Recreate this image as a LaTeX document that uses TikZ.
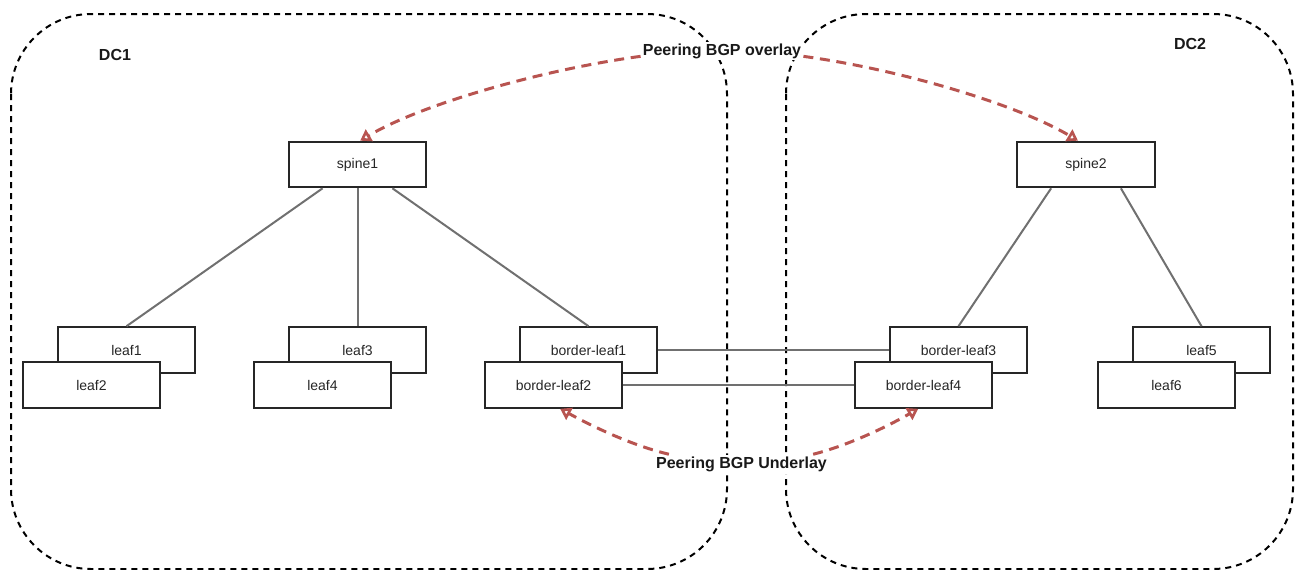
\documentclass[tikz,border=0pt]{standalone}
\usepackage{fontspec}
\setmainfont{Liberation Sans}
\usepackage{tikz}
\usetikzlibrary{arrows.meta}
\usetikzlibrary{calc}
\definecolor{peerred}{HTML}{B85450}
\definecolor{linkgray}{HTML}{707070}
\definecolor{boxgray}{HTML}{262626}

\begin{document}
\begin{tikzpicture}[x=0.75pt,y=-0.75pt]
\useasboundingbox (0,0) rectangle (1296,569);

\begin{scope}[line width=1.5pt, dash pattern=on 4.5pt off 3.75pt, rounded corners=60pt]
	\draw (11,14) rectangle (727,569);
	\draw (786,14) rectangle (1293,569);
\end{scope}

\begin{scope}[every node/.style={font=\fontsize{12}{14}\selectfont\bfseries, text=black!90}]
	\node (dc1) at (115,55) {DC1};
	\node (dc2) at (1190,43.5) {DC2};
	\node[fill=white, inner sep=1.5pt] (overlay) at (722,51) {Peering BGP overlay};
	\node[fill=white, inner sep=1.5pt] (underlay) at (741.5,464) {Peering BGP Underlay};
\end{scope}

\begin{scope}[every node/.style={draw=boxgray, line width=1.7pt, fill=white,
              minimum width=103pt, minimum height=34pt, inner sep=0pt,
              font=\fontsize{10.5}{12}\selectfont, text=black!85}]
	\node (spine1) at (357.5,164.5) {spine1};
	\node (spine2) at (1086,164.5) {spine2};

	\node (leaf1) at (126.5,350) {leaf1};
	\node (leaf2) at (91.5,385) {leaf2};
	\node (leaf3) at (357.5,350) {leaf3};
	\node (leaf4) at (322.5,385) {leaf4};
	\node (border-leaf1) at (588.5,350) {border-leaf1};
	\node (border-leaf2) at (553.5,385) {border-leaf2};

	\node (border-leaf3) at (958.5,350) {border-leaf3};
	\node (border-leaf4) at (923.5,385) {border-leaf4};
	\node (leaf5) at (1201.5,350) {leaf5};
	\node (leaf6) at (1166.5,385) {leaf6};
\end{scope}

\begin{scope}[every edge/.style={draw=linkgray, line width=1.5pt}]
	\path ($(spine1.south)!0.5!(spine1.south west)$) edge (leaf1.north);
	\path (spine1.south) edge (leaf3.north);
	\path ($(spine1.south)!0.5!(spine1.south east)$) edge (border-leaf1.north);
	\path ($(spine2.south)!0.5!(spine2.south west)$) edge (border-leaf3.north);
	\path ($(spine2.south)!0.5!(spine2.south east)$) edge (leaf5.north);

	\path (border-leaf1.east) edge (border-leaf3.west);
	\path (border-leaf2.east) edge (border-leaf4.west);
\end{scope}

\begin{scope}[>={Triangle[open, length=8pt, width=10pt]},
              draw=peerred, line width=2.25pt, dash pattern=on 7.5pt off 5pt]
	\draw[->] ([yshift=-4pt]overlay.west) .. controls (540,70) and (420,105) .. ([xshift=2pt]spine1.north);
	\draw[->] ([yshift=-4pt]overlay.east) .. controls (903,70) and (1018,105) .. ([xshift=-6pt]spine2.north);
	\draw[->] ($(underlay.north west)+(15,0)$) .. controls (630,445) and (590,425) .. ([xshift=5pt]border-leaf2.south);
	\draw[->] ($(underlay.north east)+(-16,0)$) .. controls (850,445) and (890,425) .. ([xshift=-4pt]border-leaf4.south);
\end{scope}
\end{tikzpicture}
\end{document}
